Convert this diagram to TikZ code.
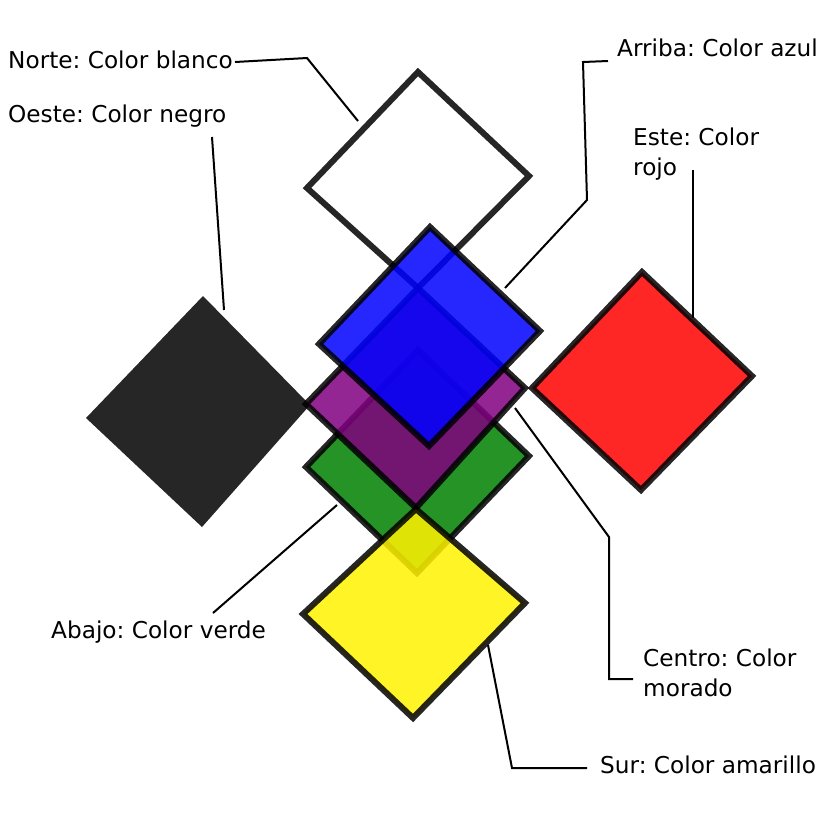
\documentclass[tikz,border=0pt]{standalone}
\usepackage{fontspec}
\setmainfont{DejaVu Sans}
\frenchspacing
\definecolor{sqgreen}{RGB}{0,128,0}
\definecolor{sqpurple}{RGB}{128,0,128}
\begin{document}
\begin{tikzpicture}[x=1pt,y=-1pt,
  sq/.style={draw=black,draw opacity=0.85,line width=6pt,line join=miter,fill opacity=0.85},
  leader/.style={draw=black,line width=2pt},
  lbl/.style={inner sep=0pt,font=\fontsize{23.2}{30}\selectfont,align=left,anchor=base west}]
\useasboundingbox (0,0) rectangle (828,828);
% Squares
\draw[sq,fill=white,fill opacity=1] (418,72) -- (529,176) -- (418,288) -- (307,188) -- cycle;
\fill[black,fill opacity=0.85] (203,296) -- (310,405) -- (202,527) -- (86,418) -- cycle;
\draw[sq,fill=red] (642,272) -- (752,376) -- (641,490) -- (532,388) -- cycle;
\draw[sq,fill=sqgreen] (418,350) -- (529,456) -- (417,573) -- (306,467) -- cycle;
\draw[sq,fill=sqpurple] (418,288) -- (525,388) -- (416,508) -- (306,404) -- cycle;
\draw[sq,fill=blue] (430,227) -- (540,331) -- (429,446) -- (319,344) -- cycle;
\draw[sq,fill=yellow] (416,509) -- (525,603) -- (413,718) -- (303,614) -- cycle;
% Labels
\node[lbl] (norte) at (8,68) {Norte: Color blanco};
\node[lbl] (oeste) at (8,122) {Oeste: Color negro};
\node[lbl] (arriba) at (617,56) {Arriba: Color azul};
\node[lbl] (este) at (633,175) {Este: Color\\rojo};
\node[lbl] (abajo) at (51,638) {Abajo: Color verde};
\node[lbl] (centro) at (643,696) {Centro: Color\\morado};
\node[lbl] (sur) at (600,773) {Sur: Color amarillo};
% Leader points
\coordinate (n0) at (235,62); \coordinate (n1) at (307,58); \coordinate (n2) at (358,121);
\coordinate (o0) at (212,137); \coordinate (o1) at (224,310);
\coordinate (a0) at (608,61); \coordinate (a1) at (583,62); \coordinate (a2) at (587,200); \coordinate (a3) at (505,288);
\coordinate (e0) at (693,170); \coordinate (e1) at (693,318);
\coordinate (b0) at (213,613); \coordinate (b1) at (337,505);
\coordinate (c0) at (633,679); \coordinate (c1) at (609,679); \coordinate (c2) at (609,537); \coordinate (c3) at (515,408);
\coordinate (s0) at (587,768); \coordinate (s1) at (512,768); \coordinate (s2) at (488,645);
% Leaders
\draw[leader] (n0) -- (n1) -- (n2);
\draw[leader] (o0) -- (o1);
\draw[leader] (a0) -- (a1) -- (a2) -- (a3);
\draw[leader] (e0) -- (e1);
\draw[leader] (b0) -- (b1);
\draw[leader] (c0) -- (c1) -- (c2) -- (c3);
\draw[leader] (s0) -- (s1) -- (s2);
\end{tikzpicture}
\end{document}
